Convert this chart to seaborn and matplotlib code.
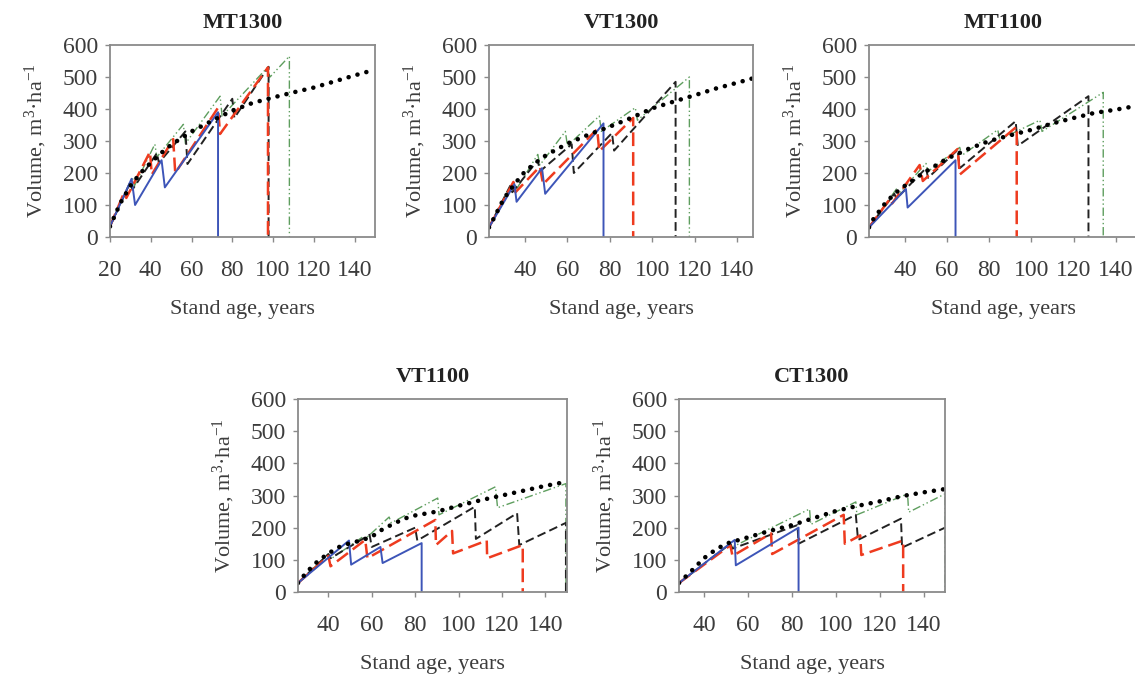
import matplotlib
matplotlib.use("Agg")
import matplotlib.pyplot as plt
import seaborn as sns
import pandas as pd

# ----------------------------------------
# Data (stand age, volume m3/ha)
# ----------------------------------------

panel_titles = ["MT1300", "VT1300", "MT1100", "VT1100", "CT1300"]
series_names = ["green", "black", "red", "blue", "dotted"]

mt1300_dotted = [(20, 33), (25, 105), (30, 160), (35, 200), (40, 232), (45, 262), (50, 288), (60, 330), (70, 363),
                 (80, 395), (90, 419), (100, 436), (110, 452), (120, 467), (130, 486), (140, 505), (150, 523)]
mt1300_blue = [(20, 33), (30.6, 182), (32.3, 100), (45.3, 240), (46.9, 155), (73, 390), (73, 0)]
mt1300_red = [(20, 33), (27, 140), (28, 122), (39.6, 266), (40.5, 195), (51, 306), (52, 200), (73, 404), (74, 322),
              (97.5, 530), (97.5, 0)]
mt1300_black = [(20, 33), (30, 172), (31, 148), (43, 262), (44, 232), (57, 330), (58, 228), (80, 432), (81, 372),
                (97.8, 532), (97.8, 0)]
mt1300_green = [(20, 33), (31, 185), (32, 160), (42, 290), (43, 250), (56, 352), (57, 292), (74, 440), (75, 378),
                (97, 528), (98.5, 500), (108, 565), (108, 0)]

vt1300_dotted = [(23, 30), (25, 55), (30, 120), (35, 165), (40, 205), (45, 232), (50, 256), (60, 292), (70, 320),
                 (80, 345), (90, 372), (100, 402), (110, 423), (120, 443), (130, 464), (140, 482), (147.5, 496)]
vt1300_blue = [(23, 30), (35, 165), (36, 110), (48, 215), (49.5, 135), (77, 355), (77, 0)]
vt1300_red = [(23, 30), (34.5, 172), (35.5, 140), (47, 220), (48.5, 165), (74, 337), (75, 268), (91, 372), (91, 0)]
vt1300_black = [(23, 30), (33, 160), (34, 140), (46, 240), (47, 205), (62, 290), (63, 200), (81, 325), (82, 270),
                (111, 485), (111, 0)]
vt1300_green = [(23, 30), (35, 170), (36, 150), (46, 258), (47, 225), (59, 330), (60, 285), (75, 378), (76, 330),
                (92, 404), (93, 365), (117.5, 500), (117.5, 0)]

mt1100_dotted = [(23, 30), (25, 55), (30, 100), (35, 135), (40, 160), (45, 183), (50, 205), (60, 245), (70, 275),
                 (80, 300), (90, 318), (100, 335), (110, 355), (120, 372), (130, 388), (140, 398), (150, 410)]
mt1100_blue = [(23, 30), (40.5, 150), (41.3, 92), (64, 240), (64, 0)]
mt1100_red = [(23, 30), (33, 120), (34, 105), (47, 225), (48.5, 175), (65, 275), (66, 195), (93, 345), (93, 0)]
mt1100_black = [(23, 30), (35, 135), (36, 120), (50, 215), (51, 185), (65, 272), (66, 215), (92.5, 362), (93.5, 285),
                (127, 440), (127, 0)]
mt1100_green = [(23, 30), (36, 150), (37, 135), (50, 230), (51, 205), (66, 280), (67, 255), (84, 335), (85, 305),
                (104, 365), (105, 330), (134, 452), (134, 0)]

vt1100_dotted = [(26, 28), (30, 62), (35, 95), (40, 120), (45, 140), (50, 152), (55, 160), (60, 172), (65, 195),
                 (70, 212), (75, 228), (80, 238), (90, 250), (100, 268), (110, 285), (120, 300), (130, 315),
                 (140, 330), (150, 343)]
vt1100_blue = [(26, 28), (49.5, 160), (50.5, 85), (64, 140), (65, 90), (83, 152), (83, 0)]
vt1100_red = [(26, 28), (40, 112), (41, 80), (57, 162), (58, 105), (89.3, 224), (89.6, 146), (97, 190), (97.5, 120),
              (113, 160), (113.2, 105), (129.6, 146), (129.6, 0)]
vt1100_black = [(26, 28), (40, 118), (41, 105), (59, 178), (60, 140), (80, 200), (81, 160), (107.5, 265), (108, 165),
                (127, 245), (128, 146), (149.5, 215), (149.5, 0)]
vt1100_green = [(26, 28), (40, 118), (41, 102), (56, 172), (57, 165), (68, 233), (69, 215), (90.4, 292), (91, 240),
                (117, 327), (118, 262), (149.5, 337), (149.5, 0)]

ct1300_dotted = [(28.7, 28), (35, 70), (40, 105), (45, 130), (50, 150), (55, 160), (60, 170), (70, 190), (80, 208),
                 (90, 230), (100, 252), (110, 268), (120, 282), (130, 298), (140, 310), (149.5, 320)]
ct1300_blue = [(28.7, 28), (54, 162), (54.5, 83), (83, 200), (83, 0)]
ct1300_red = [(28.7, 28), (52, 145), (53, 112), (70.5, 182), (71, 118), (103.5, 240), (104, 150), (111, 176),
              (111.5, 115), (130.5, 160), (130.5, 0)]
ct1300_black = [(28.7, 28), (52, 150), (53, 135), (82.5, 208), (83, 150), (109, 240), (110, 162), (129.5, 228),
                (130, 138), (149.5, 200)]
ct1300_green = [(28.7, 28), (52, 150), (53, 140), (88, 258), (88.5, 210), (109, 280), (109.5, 240), (132.5, 305),
                (133, 248), (149.5, 305), (149.5, 0)]

panel_series = {
    "MT1300": [mt1300_green, mt1300_black, mt1300_red, mt1300_blue, mt1300_dotted],
    "VT1300": [vt1300_green, vt1300_black, vt1300_red, vt1300_blue, vt1300_dotted],
    "MT1100": [mt1100_green, mt1100_black, mt1100_red, mt1100_blue, mt1100_dotted],
    "VT1100": [vt1100_green, vt1100_black, vt1100_red, vt1100_blue, vt1100_dotted],
    "CT1300": [ct1300_green, ct1300_black, ct1300_red, ct1300_blue, ct1300_dotted],
}

x_limits = {"MT1300": (20, 150), "VT1300": (23, 147.5), "MT1100": (23, 150), "VT1100": (26, 150),
            "CT1300": (28.7, 149.5)}
x_ticks = {"MT1300": [20, 40, 60, 80, 100, 120, 140]}
default_x_ticks = [40, 60, 80, 100, 120, 140]
y_ticks = [0, 100, 200, 300, 400, 500, 600]

# ----------------------------------------
# Styling
# ----------------------------------------

sns.set_style("ticks")
plt.rcParams["font.family"] = ["Liberation Serif", "DejaVu Serif"]
plt.rcParams["mathtext.fontset"] = "custom"
plt.rcParams["mathtext.rm"] = "Liberation Serif"
plt.rcParams["mathtext.it"] = "Liberation Serif:italic"

text_color = "#3c3c3c"
spine_color = "#8a8a8a"

line_styles = {
    "green": dict(color="#5e9e5e", linewidth=1.0, linestyle=(0, (6, 2, 1, 2, 1, 2))),
    "black": dict(color="#222222", linewidth=1.4, linestyle=(0, (4.5, 2.2))),
    "red": dict(color="#ee3b1f", linewidth=1.8, linestyle=(0, (5.5, 2.4))),
    "blue": dict(color="#3d55b8", linewidth=1.4, linestyle="-"),
    "dotted": dict(color="black", linewidth=3.3, linestyle=(0, (0.01, 2.0)), dash_capstyle="round"),
}

# axes positions in pixels: left, top, right, bottom
W, H = 1135, 678
axes_px = {
    "MT1300": (110, 45, 375, 237),
    "VT1300": (489, 45, 753, 237),
    "MT1100": (869, 45, 1137, 237),
    "VT1100": (298, 399, 567, 592),
    "CT1300": (679, 399, 945, 592),
}

fig = plt.figure(figsize=(W / 100, H / 100), dpi=100)

for title in panel_titles:
    l, t, r, b = axes_px[title]
    ax = fig.add_axes([l / W, 1 - b / H, (r - l) / W, (b - t) / H])

    for name, pts in zip(series_names, panel_series[title]):
        df = pd.DataFrame(pts, columns=["age", "volume"])
        sns.lineplot(data=df, x="age", y="volume", estimator=None, sort=False, ax=ax, legend=False,
                     **line_styles[name])

    ax.set_xlim(*x_limits[title])
    ax.set_ylim(0, 600)
    ax.set_xticks(x_ticks.get(title, default_x_ticks))
    ax.set_yticks(y_ticks)
    ax.set_title(title, fontsize=16, fontweight="bold", color="#222222", pad=12)
    ax.set_xlabel("Stand age, years", fontsize=16, color=text_color, labelpad=14)
    ax.set_ylabel(r"Volume, m$^{3}$·ha$^{-1}$", fontsize=16, color=text_color, labelpad=10)
    ax.tick_params(labelsize=17, colors=text_color, length=3.5, width=1, direction="out")
    ax.tick_params(axis="x", pad=13)
    ax.tick_params(axis="y", pad=5)
    ax.tick_params(color=spine_color)
    for sp in ax.spines.values():
        sp.set_visible(True)
        sp.set_color(spine_color)
        sp.set_linewidth(1.3)

fig.savefig("out.png", dpi=100)
